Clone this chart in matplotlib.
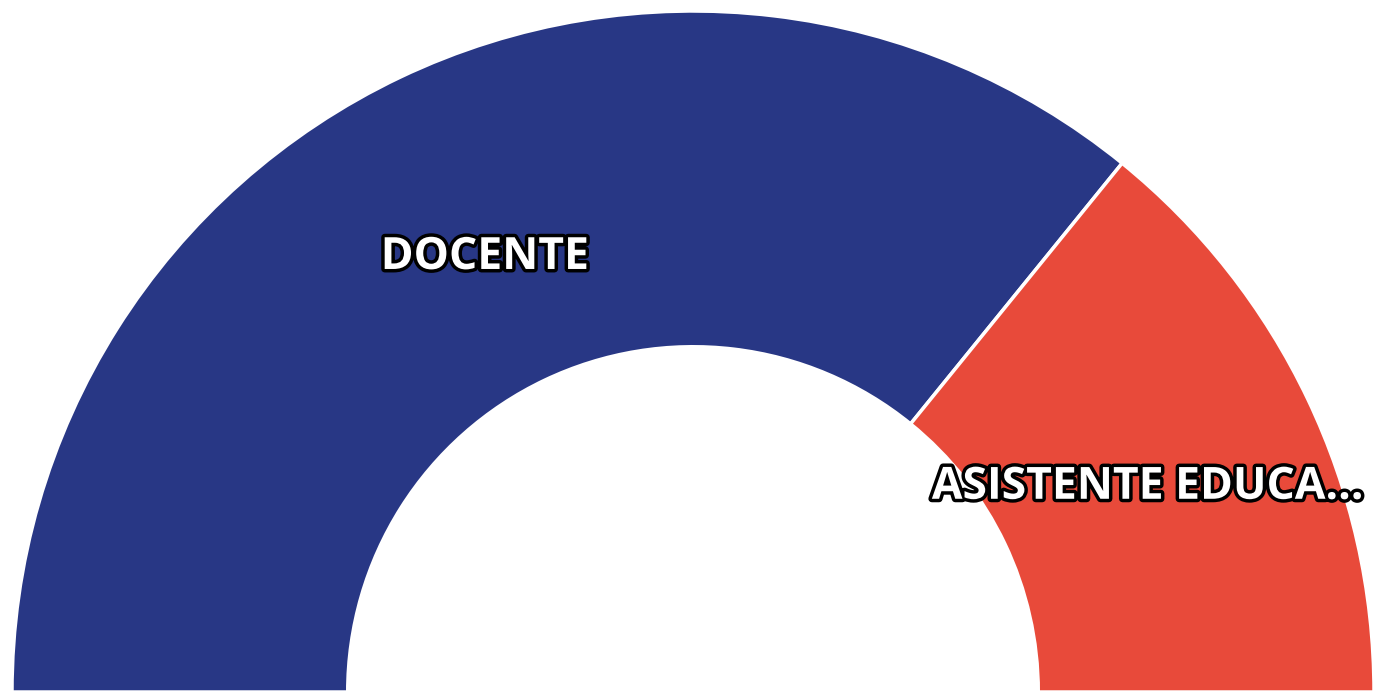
import numpy as np
import matplotlib.pyplot as plt
import matplotlib.patheffects as pe

labels = ["DOCENTE", "ASISTENTE EDUCA..."]
values = [71.7, 28.3]
colors = ["#283785", "#E84A3A"]

W, H = 1373, 692
fig = plt.figure(figsize=(W / 100, H / 100), dpi=100)
ax = fig.add_axes([0, 0, 1, 1])

# half donut: hidden lower half takes the same total as the visible part
total = sum(values)
wedges, _ = ax.pie(values + [total], colors=colors + ["none"], startangle=180,
                   counterclock=False, radius=1.0,
                   wedgeprops=dict(width=0.493, edgecolor="white", linewidth=2.5))
wedges[-1].set_edgecolor("none")

# label radius and small pixel nudges to sit like the original
for w, lab, r, dy in zip(wedges[:2], labels, [0.71, 0.74], [-2, -12]):
    ang = np.deg2rad((w.theta1 + w.theta2) / 2)
    t = ax.annotate(lab, (r * np.cos(ang), r * np.sin(ang)), xytext=(0, dy),
                    textcoords="offset pixels", ha="center", va="center",
                    fontsize=32, fontweight="bold", color="white", family="Open Sans")
    t.set_path_effects([pe.withStroke(linewidth=5, foreground="black")])

scale = 681
cx = 693
ax.set_xlim(-cx / scale, (W - cx) / scale)
ax.set_ylim(0, H / scale)
ax.set_aspect("auto")
ax.axis("off")

fig.savefig("out.png", dpi=100)
